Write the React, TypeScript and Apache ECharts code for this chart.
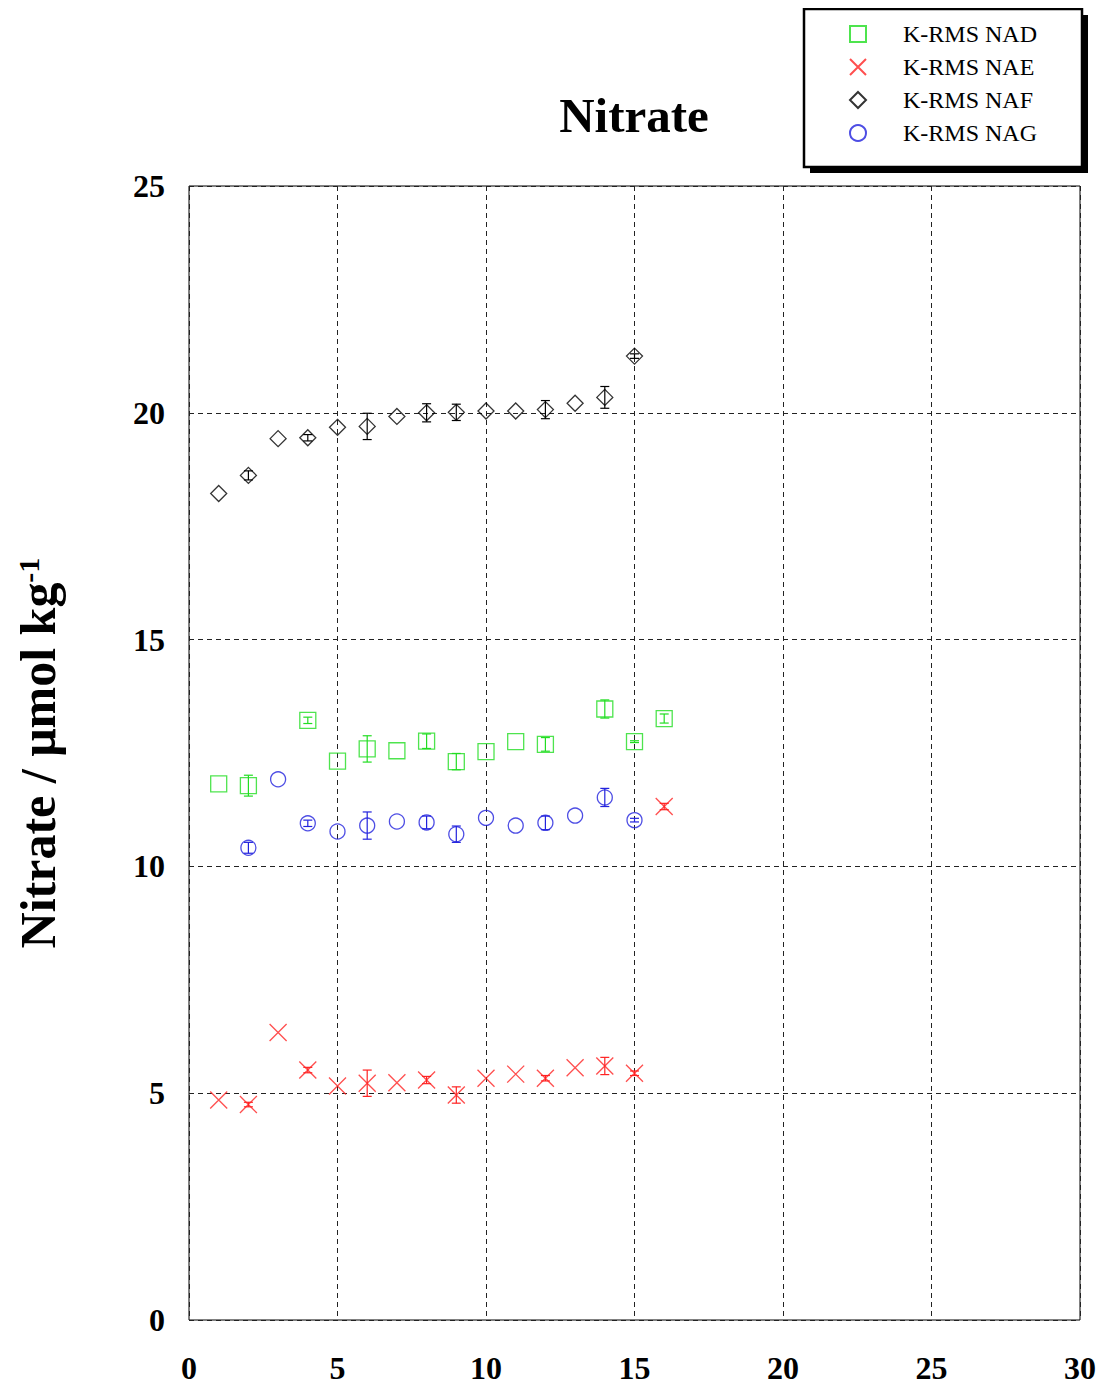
import React, { useEffect, useRef } from "react";
import * as echarts from "echarts";

const FONT = "'Liberation Serif', 'Times New Roman', serif";

const xNAD = [1, 2, 4, 5, 6, 7, 8, 9, 10, 11, 12, 14, 15, 16];
const yNAD = [11.82, 11.78, 13.22, 12.32, 12.59, 12.55, 12.76, 12.31, 12.53, 12.75, 12.69, 13.47, 12.75, 13.26];
const eNAD = [0, 0.23, 0.07, 0, 0.29, 0, 0.16, 0.18, 0, 0, 0.15, 0.2, 0.02, 0.1];

const xNAE = [1, 2, 3, 4, 5, 6, 7, 8, 9, 10, 11, 12, 13, 14, 15, 16];
const yNAE = [4.85, 4.75, 6.34, 5.51, 5.16, 5.22, 5.23, 5.29, 4.96, 5.33, 5.42, 5.33, 5.56, 5.6, 5.44, 11.32];
const eNAE = [0, 0.05, 0, 0.06, 0, 0.29, 0, 0.08, 0.18, 0, 0, 0.06, 0, 0.19, 0.05, 0.07];

const xNAF = [1, 2, 3, 4, 5, 6, 7, 8, 9, 10, 11, 12, 13, 14, 15];
const yNAF = [18.22, 18.62, 19.43, 19.45, 19.68, 19.7, 19.92, 20.0, 20.01, 20.04, 20.04, 20.07, 20.21, 20.34, 21.25];
const eNAF = [0, 0.1, 0, 0.07, 0, 0.29, 0, 0.2, 0.18, 0, 0, 0.2, 0, 0.24, 0.05];

const xNAG = [2, 3, 4, 5, 6, 7, 8, 9, 10, 11, 12, 13, 14, 15];
const yNAG = [10.41, 11.92, 10.95, 10.77, 10.9, 10.99, 10.97, 10.71, 11.07, 10.9, 10.96, 11.12, 11.52, 11.02];
const eNAG = [0.12, 0, 0.07, 0, 0.3, 0, 0.14, 0.18, 0, 0, 0.15, 0, 0.2, 0.04];

const xTicks = [0, 5, 10, 15, 20, 25, 30];
const yTicks = [0, 5, 10, 15, 20, 25];

const names = ["K-RMS NAD", "K-RMS NAE", "K-RMS NAF", "K-RMS NAG"];
const colors = ["#22dd22", "#ff2222", "#000000", "#2222dd"];
const symbols = ["rect", "path://M0,0L10,10M10,0L0,10", "diamond", "circle"];
const symSizes = [16, 17, 16, 15];

export default function App() {
  const ref = useRef<HTMLDivElement>(null);
  useEffect(() => {
    if (!ref.current) return;
    const chart = echarts.init(ref.current, null, { renderer: "svg" });
    const xs = [xNAD, xNAE, xNAF, xNAG];
    const ys = [yNAD, yNAE, yNAF, yNAG];
    const es = [eNAD, eNAE, eNAF, eNAG];

    const series: any[] = [];
    for (let i = 0; i < 4; i++) {
      const errData = xs[i]
        .map((x, j) => [x, ys[i][j] - es[i][j], ys[i][j] + es[i][j], es[i][j]])
        .filter((d) => d[3] > 0);
      series.push({
        type: "custom",
        name: names[i] + " err",
        data: errData,
        z: 2,
        renderItem: (params: any, api: any) => {
          const x = api.value(0);
          const lo = api.coord([x, api.value(1)]);
          const hi = api.coord([x, api.value(2)]);
          const w = 4.5;
          const style = { stroke: colors[i], lineWidth: 1.2 };
          return {
            type: "group",
            children: [
              { type: "line", shape: { x1: lo[0], y1: lo[1], x2: hi[0], y2: hi[1] }, style },
              { type: "line", shape: { x1: lo[0] - w, y1: lo[1], x2: lo[0] + w, y2: lo[1] }, style },
              { type: "line", shape: { x1: hi[0] - w, y1: hi[1], x2: hi[0] + w, y2: hi[1] }, style },
            ],
          };
        },
      });
      series.push({
        type: "scatter",
        name: names[i],
        data: xs[i].map((x, j) => [x, ys[i][j]]),
        symbol: symbols[i],
        symbolSize: symSizes[i],
        z: 3,
        itemStyle: {
          color: "rgba(0,0,0,0)",
          borderColor: colors[i],
          borderWidth: 1.3,
        },
      });
    }

    const axisLabel = {
      color: "#000",
      fontFamily: FONT,
      fontWeight: "bold" as const,
      fontSize: 32,
    };

    chart.setOption({
      animation: false,
      grid: {
        left: 189,
        right: 27,
        top: 186,
        bottom: 67,
        show: true,
        borderColor: "#000",
        borderWidth: 1,
        backgroundColor: "transparent",
      },
      xAxis: {
        type: "value",
        min: xTicks[0],
        max: xTicks[xTicks.length - 1],
        interval: 5,
        axisLine: { show: false },
        axisTick: { show: false },
        axisLabel: { ...axisLabel, margin: 32 },
        splitLine: { show: true, lineStyle: { color: "#222", type: [5, 4], width: 1 } },
      },
      yAxis: {
        type: "value",
        min: yTicks[0],
        max: yTicks[yTicks.length - 1],
        interval: 5,
        axisLine: { show: false },
        axisTick: { show: false },
        axisLabel: { ...axisLabel, margin: 24 },
        splitLine: { show: true, lineStyle: { color: "#222", type: [5, 4], width: 1 } },
        name: "{a|Nitrate / μmol kg}{b|-1}",
        nameLocation: "middle",
        nameRotate: 90,
        nameGap: 126,
        nameTextStyle: {
          rich: {
            a: { fontFamily: FONT, fontWeight: "bold", fontSize: 50, lineHeight: 50, color: "#000" },
            b: { fontFamily: FONT, fontWeight: "bold", fontSize: 30, lineHeight: 22, color: "#000", verticalAlign: "top" },
          },
        },
      },
      legend: {
        orient: "vertical",
        left: 849,
        top: 22,
        padding: 0,
        itemWidth: 16,
        itemHeight: 16,
        itemGap: 9,
        z: 10,
        data: names,
        selectedMode: false,
        textStyle: { fontFamily: FONT, fontSize: 24, color: "#000", padding: [0, 0, 0, 32] },
      },
      graphic: [
        { type: "rect", z: 1, shape: { x: 810, y: 15, width: 278, height: 158 }, style: { fill: "#000" } },
        { type: "rect", z: 1, shape: { x: 804, y: 9, width: 278, height: 158 }, style: { fill: "#fff", stroke: "#000", lineWidth: 2.5 } },
        {
          type: "text",
          z: 1,
          x: 634,
          y: 115,
          style: {
            text: "Nitrate",
            fontFamily: FONT,
            fontWeight: "bold",
            fontSize: 49,
            fill: "#000",
            textAlign: "center",
            textVerticalAlign: "middle",
          },
        },
      ],
      series,
    });
    return () => chart.dispose();
  }, []);
  return <div ref={ref} style={{ width: 1107, height: 1387, margin: -8 }} />;
}
